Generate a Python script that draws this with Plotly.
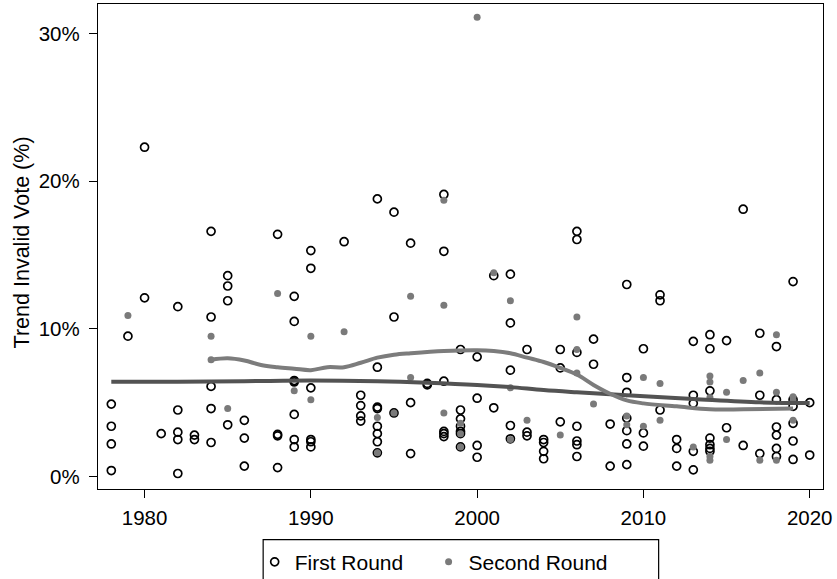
import plotly.graph_objects as go

# ---- data ----
first_years = [1978, 1978, 1978, 1978, 1979, 1980, 1980, 1981,
               1982, 1982, 1982, 1982, 1982, 1983, 1983,
               1984, 1984, 1984, 1984, 1984, 1985, 1985, 1985, 1985,
               1986, 1986, 1986, 1988, 1988, 1988, 1988,
               1989, 1989, 1989, 1989, 1989, 1989, 1989,
               1990, 1990, 1990, 1990, 1990, 1990, 1992,
               1993, 1993, 1993, 1993,
               1994, 1994, 1994, 1994, 1994, 1994, 1994, 1994,
               1995, 1995, 1995, 1996, 1996, 1996, 1997, 1997,
               1998, 1998, 1998, 1998, 1998, 1998,
               1999, 1999, 1999, 1999, 1999, 1999, 1999,
               2000, 2000, 2000, 2000, 2001, 2001,
               2002, 2002, 2002, 2002, 2002, 2003, 2003, 2003,
               2004, 2004, 2004, 2004, 2005, 2005, 2005,
               2006, 2006, 2006, 2006, 2006, 2006, 2006, 2007, 2007,
               2008, 2008, 2009, 2009, 2009, 2009, 2009, 2009, 2009,
               2010, 2010, 2010, 2011, 2011, 2011, 2012, 2012, 2012,
               2013, 2013, 2013, 2013, 2013,
               2014, 2014, 2014, 2014, 2014, 2014, 2014,
               2015, 2015, 2016, 2016, 2017, 2017, 2017,
               2018, 2018, 2018, 2018, 2018, 2018,
               2019, 2019, 2019, 2019, 2019, 2019, 2020, 2020]
first_values = [4.9, 3.4, 2.2, 0.4, 9.5, 22.3, 12.1, 2.9,
                11.5, 4.5, 3.0, 2.5, 0.2, 2.8, 2.5,
                16.6, 10.8, 6.1, 4.6, 2.3, 13.6, 12.9, 11.9, 3.5,
                3.8, 2.6, 0.7, 16.4, 2.85, 2.75, 0.6,
                12.2, 10.5, 6.5, 6.4, 4.2, 2.5, 2.0,
                15.3, 14.1, 6.0, 2.5, 2.35, 2.0, 15.9,
                5.5, 4.8, 4.1, 3.75,
                18.8, 7.4, 4.7, 4.6, 3.4, 2.9, 2.35, 1.6,
                17.9, 10.8, 4.3, 15.8, 5.0, 1.55, 6.3, 6.2,
                19.1, 15.25, 6.45, 3.05, 2.9, 2.7,
                8.6, 4.5, 3.9, 3.4, 3.05, 2.9, 2.0,
                8.1, 5.3, 2.1, 1.3, 13.6, 4.65,
                13.7, 10.4, 7.2, 3.45, 2.55, 8.6, 3.0, 2.75,
                2.5, 2.3, 1.7, 1.2, 8.6, 7.35, 3.7,
                16.6, 16.05, 8.4, 3.4, 2.4, 2.15, 1.35, 9.3, 7.6,
                3.55, 0.7, 13.0, 6.7, 5.7, 3.95, 3.1, 2.2, 0.8,
                8.65, 2.95, 2.05, 12.3, 11.9, 4.5, 2.5, 1.9, 0.7,
                9.15, 5.5, 4.95, 1.7, 0.45,
                9.6, 8.65, 5.8, 2.6, 2.15, 1.9, 1.7,
                9.2, 3.3, 18.1, 2.1, 9.7, 5.5, 1.55,
                8.8, 5.2, 3.35, 2.8, 1.9, 1.35,
                13.2, 5.2, 4.75, 3.6, 2.4, 1.15, 5.0, 1.45]

second_years = [1979, 1984, 1984, 1985, 1988, 1989, 1990, 1990, 1992,
                1994, 1994, 1995, 1996, 1996, 1998, 1998, 1998,
                1999, 1999, 1999, 2000, 2001, 2002, 2002, 2002, 2003,
                2005, 2006, 2006, 2006, 2007, 2009, 2009, 2010, 2010,
                2011, 2011, 2013, 2014, 2014, 2014, 2014, 2014,
                2015, 2015, 2016, 2017, 2017, 2018, 2018, 2018,
                2019, 2019, 2019]
second_values = [10.9, 9.5, 7.9, 4.6, 12.4, 5.8, 9.5, 5.2, 9.8,
                 4.0, 1.6, 4.3, 12.2, 6.7, 18.7, 11.6, 4.3,
                 3.6, 2.9, 2.0, 31.1, 13.8, 11.9, 6.0, 2.5, 3.8,
                 2.8, 10.8, 8.6, 7.0, 4.9, 4.1, 3.5, 6.7, 3.4,
                 6.3, 3.8, 2.0, 6.8, 6.4, 5.35, 1.35, 1.1,
                 5.7, 2.5, 6.5, 7.0, 1.1, 9.6, 5.7, 1.1,
                 5.4, 5.1, 3.8]

trend1_years = [1978, 1982, 1986, 1990, 1994, 1997, 2000, 2002, 2004,
                2006, 2009, 2013, 2017, 2020]
trend1_values = [6.42, 6.42, 6.45, 6.5, 6.45, 6.35, 6.2, 6.05, 5.85,
                 5.7, 5.5, 5.25, 5.02, 4.97]

trend2_years = [1984, 1985, 1986, 1987, 1988, 1989, 1990, 1991, 1992,
                1993, 1994, 1995, 1996, 1998, 2000, 2001, 2002, 2003,
                2004, 2005, 2006, 2007, 2008, 2009, 2010, 2012, 2014,
                2016, 2019]
trend2_values = [7.9, 8.0, 7.85, 7.55, 7.4, 7.3, 7.2, 7.4, 7.4,
                 7.7, 8.05, 8.25, 8.35, 8.5, 8.55, 8.5, 8.35, 8.05,
                 7.75, 7.35, 6.9, 6.2, 5.6, 5.15, 4.95, 4.75, 4.55,
                 4.55, 4.6]

x_ticks = [1980, 1990, 2000, 2010, 2020]
y_ticks = [0, 10, 20, 30]
y_tick_labels = ["0%", "10%", "20%", "30%"]
y_title = "Trend Invalid Vote (%)"

FONT = "Liberation Sans, Arial, Helvetica, sans-serif"

fig = go.Figure()
fig.add_trace(go.Scatter(
    x=first_years, y=first_values, mode="markers", name="First Round",
    legend="legend",
    marker=dict(symbol="circle-open", size=8, color="black",
                line=dict(width=1.7, color="black")),
))
fig.add_trace(go.Scatter(
    x=second_years, y=second_values, mode="markers", name="Second Round",
    legend="legend2",
    marker=dict(symbol="circle", size=7, color="#7a7a7a", line=dict(width=0)),
))
fig.add_trace(go.Scatter(
    x=trend1_years, y=trend1_values, mode="lines", showlegend=False,
    line=dict(color="#535353", width=4, shape="spline", smoothing=1.0),
    hoverinfo="skip",
))
fig.add_trace(go.Scatter(
    x=trend2_years, y=trend2_values, mode="lines", showlegend=False,
    line=dict(color="#7c7c7c", width=4, shape="spline", smoothing=1.0),
    hoverinfo="skip",
))

legend_style = dict(
    orientation="h", xanchor="left", y=-0.1086, yanchor="top",
    font=dict(family=FONT, size=21, color="black"),
    bgcolor="rgba(0,0,0,0)", borderwidth=0,
)

fig.update_layout(
    width=837, height=579,
    margin=dict(l=97.5, r=14.3, t=4, b=89.7, pad=0, autoexpand=False),
    paper_bgcolor="white", plot_bgcolor="white",
    font=dict(family=FONT, size=20.5, color="black"),
    showlegend=True,
    legend=dict(x=0.2161, **legend_style),
    legend2=dict(x=0.456, **legend_style),
    shapes=[dict(type="rect", xref="paper", yref="paper",
                 x0=0.2278, x1=0.7733, y0=-0.1045, y1=-0.3,
                 line=dict(color="black", width=1.2), fillcolor="rgba(0,0,0,0)")],
    annotations=[dict(text=y_title, xref="paper", yref="paper",
                      x=-0.1055, y=0.5075, xanchor="center", yanchor="middle",
                      textangle=-90, showarrow=False,
                      font=dict(family=FONT, size=21.5, color="black"))],
)
fig.update_xaxes(
    range=[1977.2, 2020.8], tickvals=x_ticks, ticks="outside", ticklen=8,
    tickwidth=1.3, tickcolor="black", showline=True, linecolor="black",
    linewidth=1.3, mirror=True, showgrid=False, zeroline=False,
    tickfont=dict(size=20.5), ticklabelstandoff=2, automargin=False,
)
fig.update_yaxes(
    range=[-0.85, 32.0], tickvals=y_ticks, ticktext=y_tick_labels,
    ticks="outside", ticklen=8, tickwidth=1.3, tickcolor="black",
    showline=True, linecolor="black", linewidth=1.3, mirror=True,
    showgrid=False, zeroline=False, tickfont=dict(size=20.5),
    ticklabelstandoff=5, automargin=False,
)

fig.write_html("out.html", config={"displayModeBar": False},
               post_script="document.body.style.margin='0';")
